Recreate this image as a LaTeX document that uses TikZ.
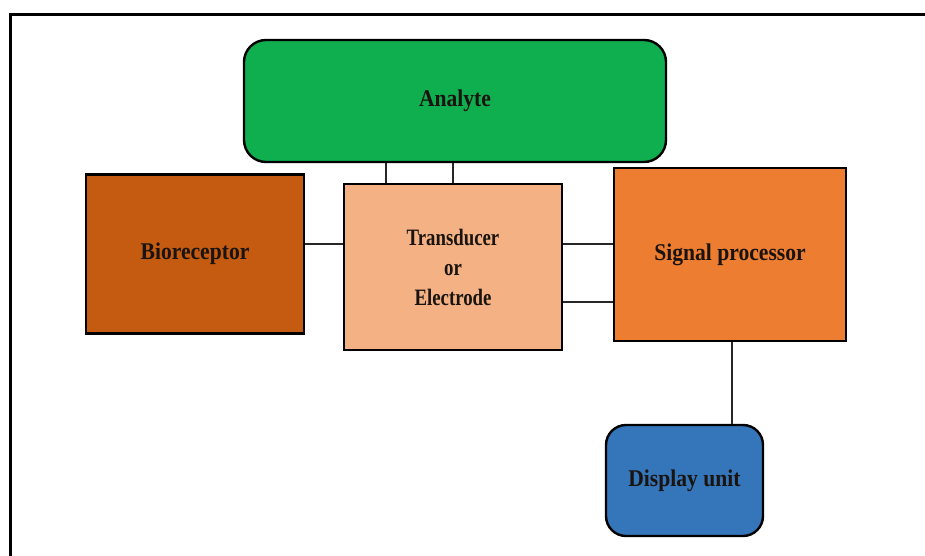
\documentclass[tikz,border=0pt]{standalone}
\usepackage{fontspec}
\setmainfont{Liberation Serif}
\newfontfamily\boxfont{Liberation Serif}[FakeStretch=0.9]
\newfontfamily\trfont{Liberation Serif}[FakeStretch=0.8]
\definecolor{anfill}{HTML}{0FAE4F}
\definecolor{biofill}{HTML}{C55A11}
\definecolor{trfill}{HTML}{F4B183}
\definecolor{spfill}{HTML}{ED7D31}
\definecolor{dufill}{HTML}{3575BA}
\definecolor{txt}{HTML}{1A1410}
\begin{document}
\begin{tikzpicture}[x=1pt,y=-1pt,
  box/.style={draw=black, line width=2.4pt, inner sep=0pt, align=center,
    text=txt, font=\boxfont\fontsize{24}{30}\selectfont\bfseries},
  link/.style={draw=black!85, line width=1.4pt}]
\useasboundingbox (0,0) rectangle (925,556);
\begin{scope}
\clip (0,0) rectangle (925,556);
\draw[line width=3pt] (10,560) -- (10,15) -- (930,15);
\end{scope}
\node[box, fill=anfill, rounded corners=22pt, minimum width=422pt, minimum height=122pt] (an) at (455,101) {Analyte};
\node[box, fill=biofill, minimum width=218pt, minimum height=159pt] (bio) at (195,254) {Bioreceptor};
\node[box, fill=trfill, minimum width=218pt, minimum height=166pt, font=\trfont\fontsize{23.5}{30}\selectfont\bfseries] (tr) at (453,267) {Transducer\\or\\Electrode};
\node[box, fill=spfill, minimum width=232pt, minimum height=173pt] (sp) at (730,254.5) {Signal processor};
\node[box, fill=dufill, rounded corners=20pt, minimum width=157pt, minimum height=111pt] (du) at (684.5,480.5) {Display unit};
\draw[link] ([xshift=-67pt]tr.north) -- ([xshift=-67pt]tr.north |- an.south);
\draw[link] (tr.north) -- (tr.north |- an.south);
\draw[link] ([yshift=23pt]tr.west) -- ([yshift=23pt]tr.west -| bio.east);
\draw[link] ([yshift=23pt]tr.east) -- ([yshift=23pt]tr.east -| sp.west);
\draw[link] ([yshift=-35pt]tr.east) -- ([yshift=-35pt]tr.east -| sp.west);
\draw[link] ([xshift=2pt]sp.south) -- ([xshift=2pt]sp.south |- du.north);
\end{tikzpicture}
\end{document}
